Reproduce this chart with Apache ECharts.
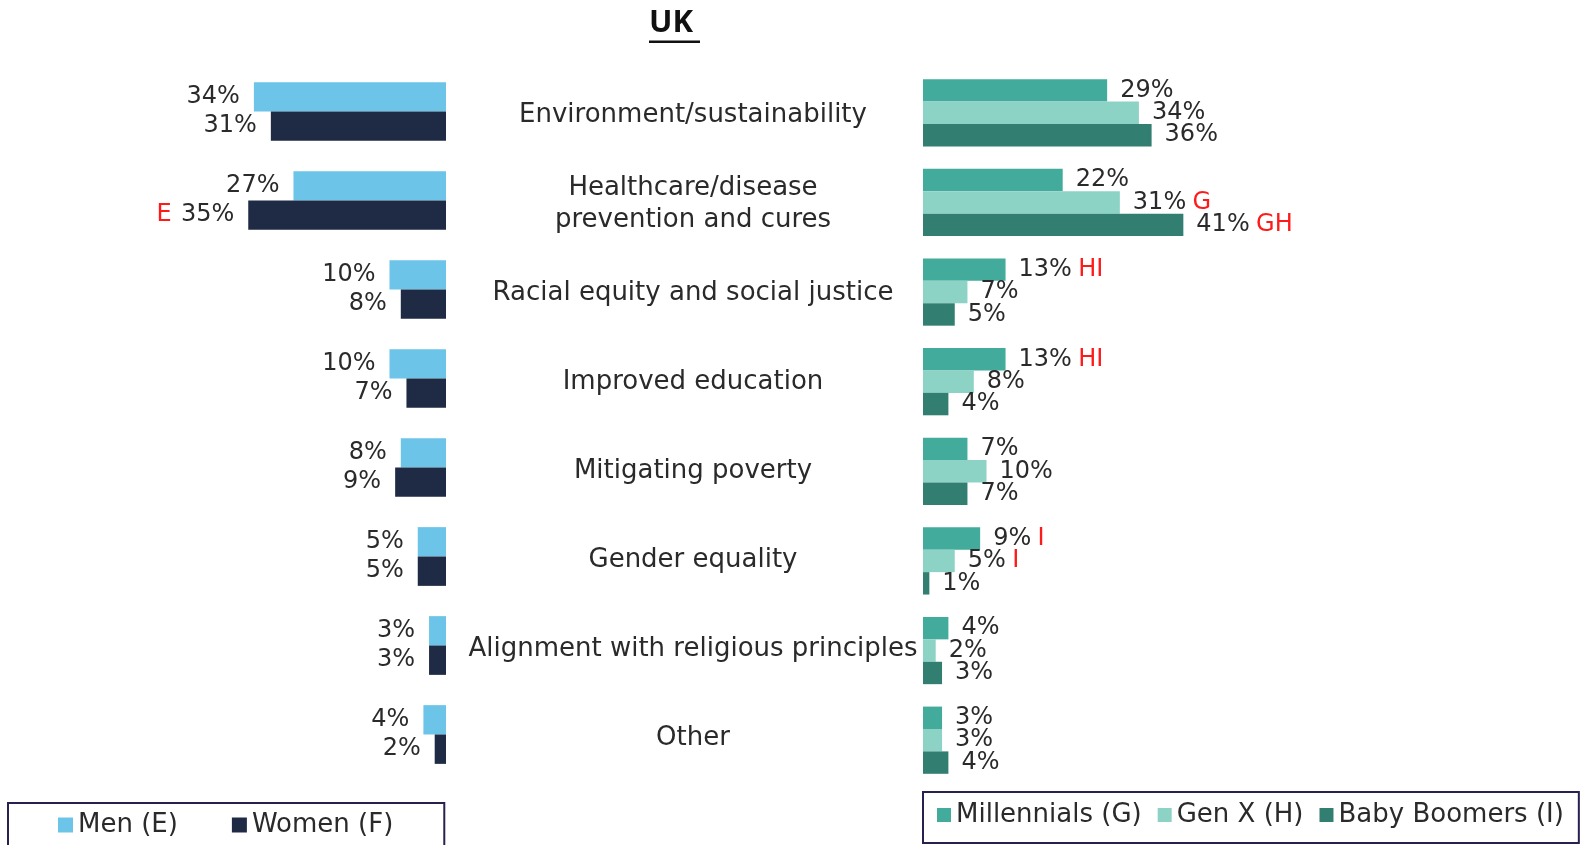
<!DOCTYPE html>
<html>
<head>
<meta charset="utf-8">
<style>
  html, body { margin: 0; padding: 0; background: #ffffff; }
  #chart { width: 1590px; height: 845px; }
</style>
<script src="https://cdn.jsdelivr.net/npm/echarts@6/dist/echarts.min.js"></script>
</head>
<body>
<div id="chart"></div>
<script>
// ---- data ----
const categories = [
  'Environment/sustainability',
  'Healthcare/disease\nprevention and cures',
  'Racial equity and social justice',
  'Improved education',
  'Mitigating poverty',
  'Gender equality',
  'Alignment with religious principles',
  'Other'
];
const men = [34, 27, 10, 10, 8, 5, 3, 4];
const women = [31, 35, 8, 7, 9, 5, 3, 2];
const menSig = ['', '', '', '', '', '', '', ''];
const womenSig = ['', 'E', '', '', '', '', '', ''];
const millennials = [29, 22, 13, 13, 7, 9, 4, 3];
const genX = [34, 31, 7, 8, 10, 5, 2, 3];
const boomers = [36, 41, 5, 4, 7, 1, 3, 4];
const millennialsSig = ['', '', 'HI', 'HI', '', 'I', '', ''];
const genXSig = ['', 'G', '', '', '', 'I', '', ''];
const boomersSig = ['', 'GH', '', '', '', '', '', ''];
const genderNames = ['Men (E)', 'Women (F)'];
const generationNames = ['Millennials (G)', 'Gen X (H)', 'Baby Boomers (I)'];

// ---- styles ----
const FONT = '"DejaVu Sans"';
const TXT = '#2a2a2a';
const RED = '#ff1a1a';
const colors = {
  men: '#6cc5e8', women: '#1f2a44',
  mill: '#43ab9b', genx: '#8cd3c5', boom: '#327f72'
};
const rich = {
  v: { fontFamily: FONT, fontSize: 24, color: TXT },
  s: { fontFamily: FONT, fontSize: 24, color: RED, padding: [0, 0, 0, 3] },
  sl: { fontFamily: FONT, fontSize: 24, color: RED, padding: [0, 6, 0, 0] }
};
function rightLabel(sig) {
  return {
    show: true, position: 'right', distance: 13,
    formatter: p => '{v|' + p.value + '%}' + (sig[p.dataIndex] ? ' {s|' + sig[p.dataIndex] + '}' : ''),
    rich: rich
  };
}
function leftLabel(sig) {
  return {
    show: true, position: 'left', distance: 14,
    formatter: p => (sig[p.dataIndex] ? '{sl|' + sig[p.dataIndex] + '} ' : '') + '{v|' + p.value + '%}',
    rich: rich
  };
}

const chart = echarts.init(document.getElementById('chart'));
chart.setOption({
  backgroundColor: '#ffffff',
  animation: false,
  graphic: [
    { type: 'text', left: 674 - 25, top: 8,
      style: { text: 'UK', font: 'bold 31px "Noto Sans"', fill: '#111111' } },
    { type: 'rect', shape: { x: 649, y: 40.5, width: 51, height: 2.5 }, style: { fill: '#111111' } }
  ],
  legend: [
    {
      data: genderNames,
      left: 8, top: 803,
      orient: 'horizontal',
      padding: [9, 51, 24, 50],
      itemGap: 54,
      itemWidth: 15, itemHeight: 15,
      icon: 'rect',
      borderColor: '#27214f', borderWidth: 2,
      textStyle: { fontFamily: FONT, fontSize: 26, color: TXT }
    },
    {
      data: generationNames,
      left: 923, top: 792,
      orient: 'horizontal',
      padding: [10, 15, 15, 14],
      itemGap: 16,
      itemWidth: 14, itemHeight: 14,
      icon: 'rect',
      borderColor: '#27214f', borderWidth: 2,
      textStyle: { fontFamily: FONT, fontSize: 26, color: TXT }
    }
  ],
  grid: [
    { left: 107, width: 339, top: 67, height: 712, containLabel: false },
    { left: 923, width: 381, top: 68, height: 717, containLabel: false },
    { left: 107, width: 339, top: 71, height: 712, containLabel: false }
  ],
  xAxis: [
    { gridIndex: 0, type: 'value', min: 0, max: 60, inverse: true, show: false },
    { gridIndex: 1, type: 'value', min: 0, max: 60, show: false },
    { gridIndex: 2, type: 'value', min: 0, max: 60, show: false }
  ],
  yAxis: [
    { gridIndex: 0, type: 'category', data: categories, inverse: true, show: false },
    { gridIndex: 1, type: 'category', data: categories, inverse: true, show: false },
    { gridIndex: 2, type: 'category', data: categories, inverse: true, position: 'right',
      axisLine: { show: false }, axisTick: { show: false }, splitLine: { show: false },
      axisLabel: { show: true, margin: 247, align: 'center', fontFamily: FONT, fontSize: 26,
                   color: TXT, lineHeight: 32 } }
  ],
  series: [
    { name: genderNames[0], type: 'bar', xAxisIndex: 0, yAxisIndex: 0, data: men,
      itemStyle: { color: colors.men }, barGap: '0%', barCategoryGap: '34%', label: leftLabel(menSig) },
    { name: genderNames[1], type: 'bar', xAxisIndex: 0, yAxisIndex: 0, data: women,
      itemStyle: { color: colors.women }, barGap: '0%', barCategoryGap: '34%', label: leftLabel(womenSig) },
    { name: generationNames[0], type: 'bar', xAxisIndex: 1, yAxisIndex: 1, data: millennials,
      itemStyle: { color: colors.mill }, barGap: '0%', barCategoryGap: '25%', label: rightLabel(millennialsSig) },
    { name: generationNames[1], type: 'bar', xAxisIndex: 1, yAxisIndex: 1, data: genX,
      itemStyle: { color: colors.genx }, barGap: '0%', barCategoryGap: '25%', label: rightLabel(genXSig) },
    { name: generationNames[2], type: 'bar', xAxisIndex: 1, yAxisIndex: 1, data: boomers,
      itemStyle: { color: colors.boom }, barGap: '0%', barCategoryGap: '25%', label: rightLabel(boomersSig) }
  ]
});
</script>
</body>
</html>
